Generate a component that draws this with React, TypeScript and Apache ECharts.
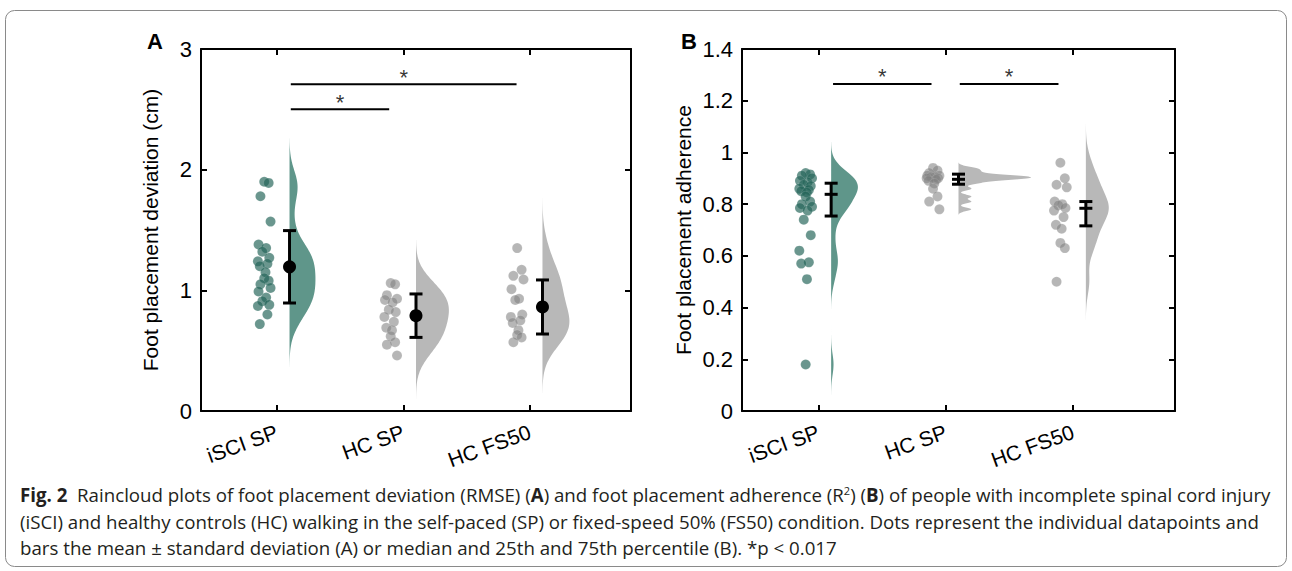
import React, { useEffect, useRef } from 'react';
import * as echarts from 'echarts';

const categories = ['iSCI SP', 'HC SP', 'HC FS50'];

// Panel A: foot placement deviation (cm)
const devIsciSP = [1.90, 1.89, 1.78, 1.57, 1.38, 1.35, 1.32, 1.27, 1.24, 1.22, 1.20, 1.15, 1.10, 1.08, 1.05, 1.02, 0.99, 0.94, 0.91, 0.88, 0.87, 0.80, 0.72];
const devHcSP = [1.06, 1.05, 0.96, 0.93, 0.92, 0.90, 0.84, 0.82, 0.78, 0.74, 0.69, 0.67, 0.62, 0.57, 0.55, 0.46];
const devHcFS50 = [1.35, 1.17, 1.12, 1.09, 1.01, 0.93, 0.92, 0.80, 0.78, 0.75, 0.73, 0.67, 0.63, 0.61, 0.57];
const devMean = [1.195, 0.79, 0.862];
const devSD = [0.30, 0.18, 0.224];

// Panel B: foot placement adherence (R2)
const adhIsciSP = [0.92, 0.915, 0.91, 0.90, 0.89, 0.885, 0.875, 0.87, 0.86, 0.855, 0.85, 0.845, 0.83, 0.81, 0.80, 0.79, 0.785, 0.775, 0.74, 0.68, 0.62, 0.575, 0.57, 0.51, 0.18];
const adhHcSP = [0.94, 0.93, 0.92, 0.91, 0.91, 0.905, 0.905, 0.90, 0.90, 0.895, 0.89, 0.88, 0.86, 0.83, 0.81, 0.78];
const adhHcFS50 = [0.96, 0.90, 0.875, 0.865, 0.81, 0.80, 0.795, 0.785, 0.775, 0.75, 0.72, 0.705, 0.65, 0.63, 0.50];
const adhMedian = [0.838, 0.896, 0.784];
const adhQ1 = [0.754, 0.877, 0.716];
const adhQ3 = [0.881, 0.916, 0.81];

// significance brackets
const sigA = [
  { from: 1.11, to: 1.888, y: 2.5 },
  { from: 1.11, to: 2.895, y: 2.707 },
];
const sigB = [
  { from: 1.115, to: 1.888, y: 1.265 },
  { from: 2.11, to: 2.885, y: 1.265 },
];

const yTicksA = { min: 0, max: 3, interval: 1 };
const yTicksB = { min: 0, max: 1.4, interval: 0.2 };

// KDE bandwidths and half-violin widths (category units)
const bwA = [0.12, 0.12, 0.14];
const bwB = [0.04, 0.007, 0.05];
const widthA = [0.205, 0.26, 0.213];
const widthB = [0.21, 0.57, 0.18];

const TEAL = '#5f968a';
const GRAY = '#b8b8b8';
const TEAL_PT = 'rgba(35,100,88,0.68)';
const GRAY_PT = 'rgba(130,130,130,0.58)';
const FONT = '"Liberation Sans", Arial, Helvetica, sans-serif';
const CAPFONT = '"Open Sans", "Noto Sans", sans-serif';

const jitter = [0, 0.035, -0.03, 0.05, -0.045, 0.015, -0.015, 0.04, -0.05, 0.025, -0.035, 0.01];

function kdeProfile(values: number[], h: number, steps = 200): number[][] {
  const lo = Math.min(...values) - 3 * h;
  const hi = Math.max(...values) + 3 * h;
  const out: number[][] = [];
  for (let i = 0; i <= steps; i++) {
    const y = lo + ((hi - lo) * i) / steps;
    let d = 0;
    for (const v of values) {
      const z = (y - v) / h;
      d += Math.exp(-0.5 * z * z);
    }
    out.push([y, d]);
  }
  const mx = Math.max(...out.map((p) => p[1]));
  return out.map(([y, d]) => [y, d / mx]);
}

function violin(values: number[], h: number, w: number, base: number, color: string, xi: number, yi: number) {
  const prof = kdeProfile(values, h);
  const mid = (prof[0][0] + prof[prof.length - 1][0]) / 2;
  return {
    type: 'custom',
    xAxisIndex: xi,
    yAxisIndex: yi,
    silent: true,
    z: 1,
    data: [[base, mid]],
    encode: { x: 0, y: 1 },
    renderItem: (_p: any, api: any) => {
      const pts: number[][] = [];
      pts.push(api.coord([base, prof[0][0]]));
      for (const [y, d] of prof) pts.push(api.coord([base + d * w, y]));
      pts.push(api.coord([base, prof[prof.length - 1][0]]));
      return { type: 'polygon', shape: { points: pts }, style: { fill: color } };
    },
  };
}

function points(values: number[], cat: number, color: string, xi: number, yi: number) {
  return {
    type: 'scatter',
    xAxisIndex: xi,
    yAxisIndex: yi,
    silent: true,
    z: 2,
    symbolSize: 10,
    itemStyle: { color, opacity: 1, borderColor: 'rgba(255,255,255,0.2)', borderWidth: 0.6 },
    data: values.map((v, i) => [cat - 0.1 + jitter[i % jitter.length], v]),
  };
}

function errorBars(rows: number[][], xi: number, yi: number) {
  return {
    type: 'custom',
    xAxisIndex: xi,
    yAxisIndex: yi,
    silent: true,
    z: 3,
    data: rows,
    encode: { x: 0, y: [1, 2] },
    renderItem: (_p: any, api: any) => {
      const x = api.value(0);
      const lo = api.coord([x, api.value(1)]);
      const hi = api.coord([x, api.value(2)]);
      const hw = 6.5;
      const st = { stroke: '#000', lineWidth: 3 };
      const children: any[] = [
        { type: 'line', shape: { x1: lo[0], y1: lo[1], x2: hi[0], y2: hi[1] }, style: st },
        { type: 'line', shape: { x1: lo[0] - hw, y1: lo[1], x2: lo[0] + hw, y2: lo[1] }, style: st },
        { type: 'line', shape: { x1: hi[0] - hw, y1: hi[1], x2: hi[0] + hw, y2: hi[1] }, style: st },
      ];
      const m = api.value(3);
      if (m === m && m > 0) {
        const pm = api.coord([x, m]);
        children.push({ type: 'line', shape: { x1: pm[0] - hw, y1: pm[1], x2: pm[0] + hw, y2: pm[1] }, style: st });
      }
      return { type: 'group', children };
    },
  };
}

function sigSeries(sig: { from: number; to: number; y: number }[], xi: number, yi: number) {
  const out: any[] = [];
  sig.forEach((s) => {
    out.push({
      type: 'line',
      xAxisIndex: xi,
      yAxisIndex: yi,
      silent: true,
      symbol: 'none',
      lineStyle: { color: '#000', width: 2 },
      data: [[s.from, s.y], [s.to, s.y]],
      z: 4,
    });
  });
  out.push({
    type: 'scatter',
    xAxisIndex: xi,
    yAxisIndex: yi,
    silent: true,
    symbolSize: 0,
    label: { show: true, formatter: '*', position: 'top', distance: -4, color: '#000', fontSize: 22, fontFamily: FONT },
    data: sig.map((s) => [(s.from + s.to) / 2, s.y]),
    z: 4,
  });
  return out;
}

const catVals = [1, 2, 3];

function xAxes(gridIndex: number) {
  const common = {
    type: 'value',
    gridIndex,
    min: 0.4,
    max: 3.8,
    splitLine: { show: false },
    axisLine: { show: true, onZero: false, lineStyle: { color: '#000', width: 2 } },
    axisTick: { show: true, inside: true, length: 6, customValues: catVals, lineStyle: { color: '#000', width: 2 } },
  };
  return [
    {
      ...common,
      position: 'bottom',
      axisLabel: {
        show: true,
        customValues: catVals,
        formatter: (v: number) => categories[Math.round(v) - 1] ?? '',
        rotate: 20,
        margin: 20,
        color: '#000',
        fontSize: 21,
        fontFamily: FONT,
      },
    },
    { ...common, position: 'top', axisLabel: { show: false } },
  ];
}

function yAxes(gridIndex: number, t: { min: number; max: number; interval: number }, name: string, nameGap: number) {
  const common = {
    type: 'value',
    gridIndex,
    min: t.min,
    max: t.max,
    interval: t.interval,
    splitLine: { show: false },
    axisLine: { show: true, onZero: false, lineStyle: { color: '#000', width: 2 } },
    axisTick: { show: true, inside: true, length: 6, lineStyle: { color: '#000', width: 2 } },
  };
  return [
    {
      ...common,
      position: 'left',
      name,
      nameLocation: 'middle',
      nameGap,
      nameTextStyle: { color: '#000', fontSize: 21, fontFamily: FONT },
      axisLabel: {
        show: true,
        margin: 9,
        color: '#000',
        fontSize: 22,
        fontFamily: FONT,
        formatter: (v: number) => String(+v.toFixed(1)),
      },
    },
    { ...common, position: 'right', name: '', axisLabel: { show: false } },
  ];
}

const captionLines = [
  '{b|Fig. 2}  Raincloud plots of foot placement deviation (RMSE) ({b|A}) and foot placement adherence (R{sup|2}) ({b|B}) of people with incomplete spinal cord injury',
  '(iSCI) and healthy controls (HC) walking in the self-paced (SP) or fixed-speed 50% (FS50) condition. Dots represent the individual datapoints and',
  'bars the mean ± standard deviation (A) or median and 25th and 75th percentile (B). *p < 0.017',
];

export default function App() {
  const ref = useRef<HTMLDivElement>(null);
  useEffect(() => {
    if (!ref.current) return;
    const chart = echarts.init(ref.current, undefined, { renderer: 'svg' });
    const devGroups = [devIsciSP, devHcSP, devHcFS50];
    const adhGroups = [adhIsciSP, adhHcSP, adhHcFS50];
    const colors = [TEAL, GRAY, GRAY];
    const ptColors = [TEAL_PT, GRAY_PT, GRAY_PT];
    const series: any[] = [];
    devGroups.forEach((g, i) => series.push(violin(g, bwA[i], widthA[i], i + 1.1, colors[i], 0, 0)));
    adhGroups.forEach((g, i) => series.push(violin(g, bwB[i], widthB[i], i + 1.1, colors[i], 2, 2)));
    devGroups.forEach((g, i) => series.push(points(g, i + 1, ptColors[i], 0, 0)));
    adhGroups.forEach((g, i) => series.push(points(g, i + 1, ptColors[i], 2, 2)));
    series.push(errorBars(devMean.map((m, i) => [i + 1.1, m - devSD[i], m + devSD[i], NaN]), 0, 0));
    series.push(errorBars(adhMedian.map((m, i) => [i + 1.1, adhQ1[i], adhQ3[i], m]), 2, 2));
    series.push({
      type: 'scatter',
      xAxisIndex: 0,
      yAxisIndex: 0,
      silent: true,
      z: 5,
      symbolSize: 13,
      itemStyle: { color: '#000', opacity: 1 },
      data: devMean.map((m, i) => [i + 1.1, m]),
    });
    series.push(...sigSeries(sigA, 0, 0));
    series.push(...sigSeries(sigB, 2, 2));

    const CAPSIZE = 18.7;
    const capStyle = { fontFamily: CAPFONT, fontSize: CAPSIZE, fill: '#231f20' };
    chart.setOption({
      animation: false,
      backgroundColor: '#fff',
      grid: [
        { left: 201, top: 49, width: 430, height: 362, outerBoundsMode: 'none' },
        { left: 742, top: 49, width: 433, height: 362, outerBoundsMode: 'none' },
      ],
      xAxis: [...xAxes(0), ...xAxes(1)],
      yAxis: [
        ...yAxes(0, yTicksA, 'Foot placement deviation (cm)', 40),
        ...yAxes(1, yTicksB, 'Foot placement adherence', 48),
      ],
      series,
      graphic: [
        {
          type: 'rect',
          z: -10,
          silent: true,
          shape: { x: 5.5, y: 10.5, width: 1281, height: 556, r: 9 },
          style: { fill: 'none', stroke: '#8a8a8a', lineWidth: 1 },
        },
        { type: 'text', x: 147, y: 30, style: { text: 'A', font: `bold 22px ${FONT}`, fill: '#000' } },
        { type: 'text', x: 681, y: 30, style: { text: 'B', font: `bold 22px ${FONT}`, fill: '#000' } },
        ...captionLines.map((t, i) => ({
          type: 'text',
          x: 20,
          y: 485 + i * 26.5,
          style: {
            text: t,
            ...capStyle,
            rich: {
              b: { fontFamily: CAPFONT, fontSize: CAPSIZE, fontWeight: 'bold', fill: '#231f20' },
              sup: { fontFamily: CAPFONT, fontSize: 11, fill: '#231f20', verticalAlign: 'top' },
            },
          },
        })),
      ],
    });
    return () => chart.dispose();
  }, []);
  return <div ref={ref} style={{ position: 'absolute', left: 0, top: 0, width: 1292, height: 571, background: '#fff' }} />;
}
